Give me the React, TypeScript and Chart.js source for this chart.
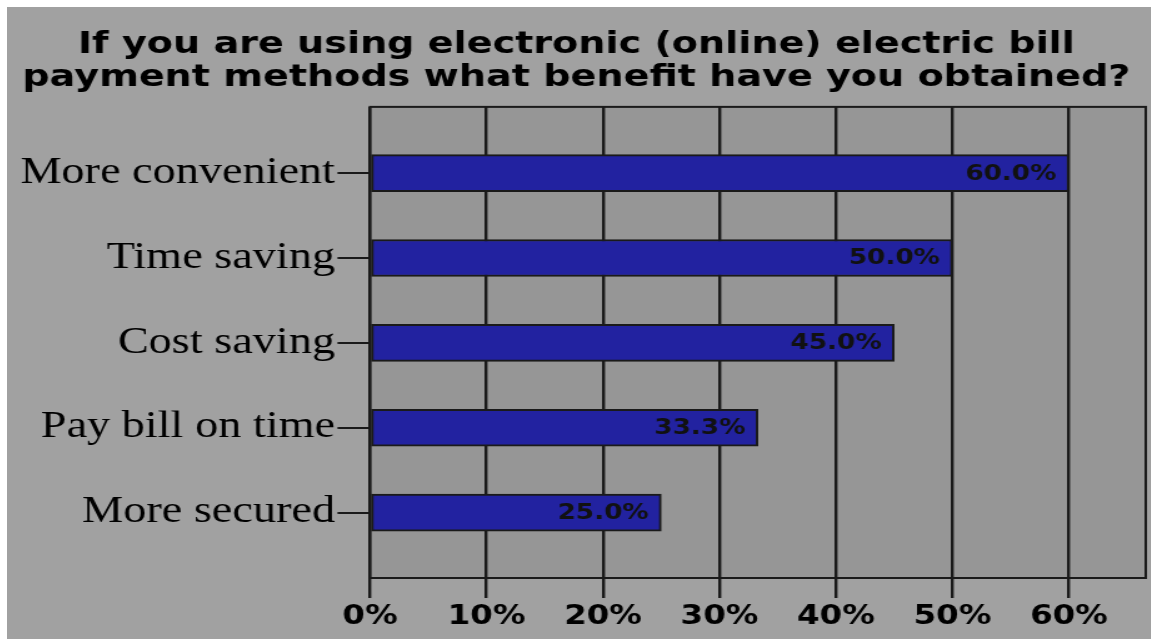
import React, { useEffect, useRef } from "react";
import { Chart, registerables } from "chart.js";

Chart.register(...registerables);

const titleLines = [
  "If you are using electronic (online) electric bill",
  "payment methods what benefit have you obtained?",
];
const categories = [
  "More convenient",
  "Time saving",
  "Cost saving",
  "Pay bill on time",
  "More secured",
];
const percentValues = [60.0, 50.0, 45.0, 33.3, 25.0];
const xTickValues = [0, 10, 20, 30, 40, 50, 60];

const STRETCH = 1.25;
const CANVAS_W = 915;
const CANVAS_H = 632;

const bgPlugin = {
  id: "bgPlugin",
  beforeDraw(chart: any) {
    const { ctx, chartArea } = chart;
    ctx.save();
    ctx.fillStyle = "#a1a1a1";
    ctx.fillRect(0, 0, chart.width, chart.height);
    ctx.fillStyle = "#969696";
    ctx.fillRect(
      chartArea.left,
      chartArea.top,
      chartArea.right - chartArea.left,
      chartArea.bottom - chartArea.top
    );
    ctx.restore();
  },
  afterDraw(chart: any) {
    const { ctx, chartArea } = chart;
    ctx.save();
    ctx.strokeStyle = "#1a1a1a";
    ctx.lineWidth = 2;
    ctx.strokeRect(
      chartArea.left,
      chartArea.top,
      chartArea.right - chartArea.left,
      chartArea.bottom - chartArea.top
    );
    ctx.restore();
  },
  afterDatasetsDraw(chart: any) {
    const { ctx } = chart;
    const meta = chart.getDatasetMeta(0);
    ctx.save();
    ctx.font = "bold 21px 'DejaVu Sans'";
    ctx.fillStyle = "#111111";
    ctx.textAlign = "right";
    ctx.textBaseline = "middle";
    meta.data.forEach((el: any, i: number) => {
      ctx.fillText(percentValues[i].toFixed(1) + "%", el.x - 10, el.y + 1);
    });
    ctx.restore();
  },
};

export default function App() {
  const canvasRef = useRef<HTMLCanvasElement | null>(null);

  useEffect(() => {
    if (!canvasRef.current) return;
    const chart = new Chart(canvasRef.current, {
      type: "bar",
      data: {
        datasets: [
          {
            data: percentValues.map((v, i) => ({ x: v, y: i })),
            backgroundColor: "#2222a0",
            borderColor: "#1a1a1a",
            borderWidth: 2,
            borderSkipped: false,
            barThickness: 37,
          },
        ],
      },
      options: {
        indexAxis: "y",
        responsive: false,
        animation: false,
        devicePixelRatio: 1,
        layout: { padding: { left: 0, right: 4, top: 0, bottom: 0 } },
        plugins: {
          legend: { display: false },
          tooltip: { enabled: false },
          title: {
            display: true,
            text: titleLines,
            color: "#000000",
            font: { family: "'DejaVu Sans'", size: 30.5, weight: "bold", lineHeight: 1.08 },
            padding: { top: 22, bottom: 12 },
          },
        },
        scales: {
          x: {
            type: "linear",
            position: "bottom",
            min: 0,
            max: 66.6,
            afterBuildTicks: (scale: any) => {
              scale.ticks = xTickValues.map((v) => ({ value: v }));
            },
            afterFit: (scale: any) => {
              scale.height = 61;
            },
            ticks: {
              color: "#000000",
              padding: 4,
              maxRotation: 0,
              font: { family: "'DejaVu Sans'", size: 26, weight: "bold" },
              callback: (v: any) => v + "%",
            },
            grid: {
              color: "#1a1a1a",
              lineWidth: 2.4,
              tickLength: 20,
              drawOnChartArea: true,
            },
            border: { display: false },
          },
          y: {
            type: "linear",
            reverse: true,
            offset: false,
            min: -0.78,
            max: 4.77,
            afterBuildTicks: (scale: any) => {
              scale.ticks = categories.map((_, i) => ({ value: i }));
            },
            afterFit: (scale: any) => {
              scale.width = 290.4;
            },
            ticks: {
              color: "#000000",
              padding: 2,
              font: { family: "'Liberation Serif'", size: 37 },
              callback: (v: any) => categories[v as number] ?? "",
            },
            grid: {
              color: "#1a1a1a",
              lineWidth: 2,
              tickLength: 26,
              offset: false,
              drawOnChartArea: false,
            },
            border: { display: false },
          },
        },
      },
      plugins: [bgPlugin],
    } as any);
    return () => chart.destroy();
  }, []);

  return (
    <div
      style={{
        position: "fixed",
        left: 7,
        top: 7,
        width: CANVAS_W,
        height: CANVAS_H,
        transform: `scaleX(${STRETCH})`,
        transformOrigin: "left top",
      }}
    >
      <canvas ref={canvasRef} width={CANVAS_W} height={CANVAS_H} />
    </div>
  );
}
